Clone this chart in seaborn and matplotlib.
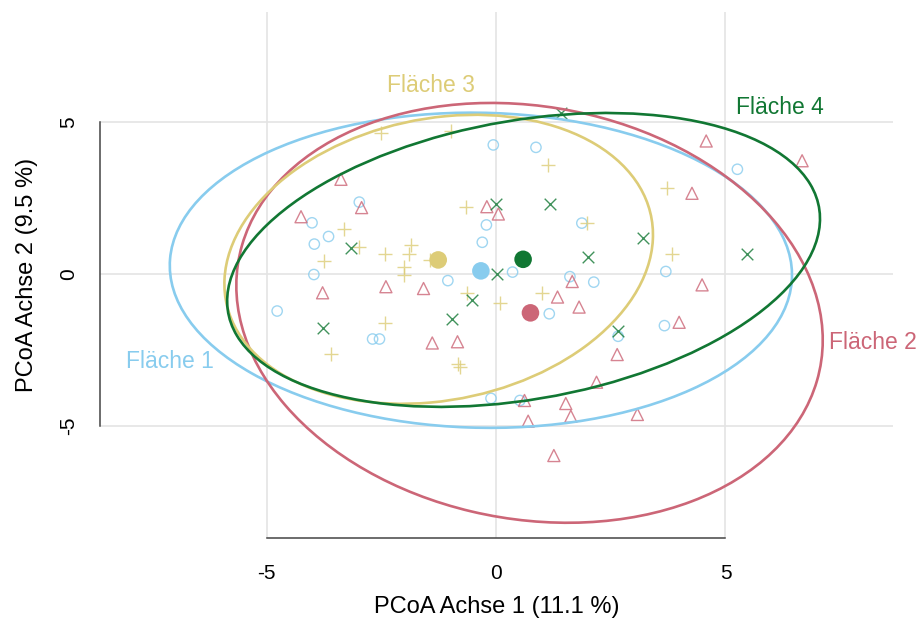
import matplotlib
matplotlib.use("Agg")
import matplotlib.pyplot as plt
from matplotlib.patches import Ellipse
import numpy as np
import seaborn as sns

# PCoA scores per Fläche
f1_x = [-4.77, -4.01, -3.96, -3.65, -3.97, -2.98, -2.69, -2.54, -1.05, -0.06, 0.87, -0.21,
        -0.30, 0.36, 1.61, 2.13, 1.87, 5.26, 3.70, 1.16, 2.66, -0.11, 0.52, 3.67]
f1_y = [-1.22, 1.68, 0.98, 1.23, -0.02, 2.36, -2.14, -2.14, -0.22, 4.24, 4.16, 1.61,
        1.04, 0.06, -0.09, -0.27, 1.67, 3.44, 0.08, -1.31, -2.05, -4.09, -4.16, -1.70]

f2_x = [-3.38, -2.93, -4.25, -3.78, -2.40, -1.58, -1.39, -0.84, 1.34, 1.81, 2.64, 2.19, 0.62,
        1.52, 0.70, 1.63, 1.26, 3.99, 3.08, 4.49, 4.58, 6.67, 4.27, -0.20, 0.05, 1.66]
f2_y = [3.11, 2.18, 1.88, -0.62, -0.42, -0.48, -2.27, -2.23, -0.76, -1.09, -2.65, -3.56, -4.16,
        -4.26, -4.84, -4.68, -5.97, -1.59, -4.62, -0.36, 4.37, 3.72, 2.65, 2.21, 1.97, -0.25]

f3_x = [-2.51, -3.31, -2.98, -3.76, -2.43, -1.86, -1.89, -2.00, -2.00, -1.45, -0.98, 1.13,
        -0.66, 1.98, 1.00, -0.64, 0.09, -0.82, -0.78, 3.72, 3.83, -2.42, -3.59]
f3_y = [4.64, 1.47, 0.90, 0.44, 0.65, 0.95, 0.65, 0.24, -0.03, 0.45, 4.71, 3.58,
        2.21, 1.69, -0.62, -0.62, -0.95, -2.95, -3.05, 2.84, 0.66, -1.61, -2.62]

f4_x = [-3.17, -0.01, 1.18, 2.01, 0.03, 1.42, 3.21, 5.46, -3.78, -0.52, -0.97, 2.66]
f4_y = [0.84, 2.29, 2.29, 0.57, 0.00, 5.30, 1.19, 0.65, -1.77, -0.86, -1.48, -1.88]

groups = ["Fläche 1", "Fläche 2", "Fläche 3", "Fläche 4"]
colors = ["#88CCEE", "#CC6677", "#DDCC77", "#117733"]

# group centroids
cent_x = [-0.33, 0.75, -1.26, 0.59]
cent_y = [0.10, -1.28, 0.46, 0.48]

# ellipses: centre, half x-extent, half y-extent, correlation
ell_cx = [-0.33, 0.73, -1.25, 0.60]
ell_cy = [0.12, -1.28, 0.48, 0.46]
ell_ax = [6.78, 6.39, 4.67, 6.46]
ell_by = [5.18, 6.90, 4.75, 4.83]
ell_rho = [-0.03, -0.13, 0.17, 0.28]

# label positions
lab_x = [-7.11, 8.22, -1.41, 6.18]
lab_y = [-3.09, -2.46, 5.98, 5.26]

sns.set_style("white")
plt.rcParams["font.family"] = ["Liberation Sans", "DejaVu Sans"]
plt.rcParams["axes.unicode_minus"] = False

fig = plt.figure(figsize=(9.22, 6.21), dpi=100)
ax = fig.add_axes([0.1085, 0.1337, 0.86, 0.847])

pts = [(f1_x, f1_y), (f2_x, f2_y), (f3_x, f3_y), (f4_x, f4_y)]
mk = ["o", "^", "+", "x"]
sz = [55, 75, 110, 70]
for i, (xs, ys) in enumerate(pts):
    if mk[i] in ("o", "^"):
        sns.scatterplot(x=xs, y=ys, ax=ax, marker=mk[i], s=sz[i], facecolor="none",
                        edgecolor=colors[i], linewidth=1.0, alpha=0.8, zorder=3)
    else:
        sns.scatterplot(x=xs, y=ys, ax=ax, marker=mk[i], s=sz[i], color=colors[i],
                        linewidth=1.0, alpha=0.8, zorder=3)

for i in range(4):
    a, b, r = ell_ax[i], ell_by[i], ell_rho[i]
    cov = np.array([[a * a, r * a * b], [r * a * b, b * b]])
    vals, vecs = np.linalg.eigh(cov)
    ang = np.degrees(np.arctan2(vecs[1, 1], vecs[0, 1]))
    ax.add_patch(Ellipse((ell_cx[i], ell_cy[i]), 2 * np.sqrt(vals[1]), 2 * np.sqrt(vals[0]),
                         angle=ang, fill=False, edgecolor=colors[i], lw=1.9, zorder=4))
    ax.text(lab_x[i], lab_y[i], groups[i], color=colors[i], fontsize=16.5,
            ha="center", va="baseline", clip_on=False)

sns.scatterplot(x=cent_x, y=cent_y, ax=ax, hue=groups, palette=colors, s=160,
                edgecolor="none", legend=False, zorder=5)

ax.set_xlim(-8.63, 8.65)
ax.set_ylim(-8.68, 8.61)
ax.set_xticks([-5, 0, 5])
ax.set_yticks([-5, 0, 5])
ax.grid(True, color="#e4e4e4", lw=1.2)
ax.set_axisbelow(True)
for s in ["top", "right"]:
    ax.spines[s].set_visible(False)
for s in ["left", "bottom"]:
    ax.spines[s].set_bounds(-5, 5)
    ax.spines[s].set_color("#444444")
    ax.spines[s].set_linewidth(1.1)
ax.tick_params(axis="both", direction="out", length=8.5, width=1.1, color="#555555",
               labelsize=15, labelcolor="black")
ax.tick_params(axis="x", pad=10)
ax.tick_params(axis="y", pad=7, labelrotation=90)
for t in ax.get_yticklabels():
    t.set_va("center")

ax.set_xlabel("PCoA Achse 1 (11.1 %)", fontsize=17, color="black")
ax.set_ylabel("PCoA Achse 2 (9.5 %)", fontsize=17, color="black")
ax.xaxis.set_label_coords(0.5, -0.110)
ax.yaxis.set_label_coords(-0.078, 0.5)

fig.savefig("out.png", dpi=100)
